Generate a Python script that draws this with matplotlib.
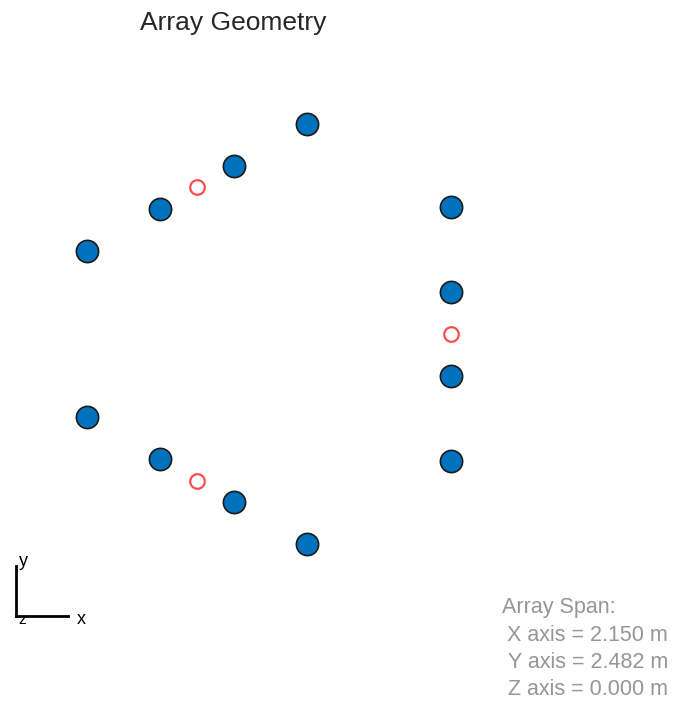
import matplotlib.pyplot as plt

# element positions (m), three 4-element subarrays
elem_x = [1.0, 1.0, 1.0, 1.0,
          0.1495, -0.2835, -0.7165, -1.1495,
          0.1495, -0.2835, -0.7165, -1.1495]
elem_y = [-0.75, -0.25, 0.25, 0.75,
          1.241, 0.991, 0.741, 0.491,
          -1.241, -0.991, -0.741, -0.491]

# subarray phase centers
center_x = [1.0, -0.5, -0.5]
center_y = [0.0, 0.866, -0.866]

span_labels = ['X axis', 'Y axis', 'Z axis']
span_values = [2.150, 2.482, 0.000]

W, H = 673, 703
plt.rcParams['font.family'] = ['Liberation Sans', 'DejaVu Sans']

fig = plt.figure(figsize=(W / 100, H / 100), dpi=100)
ax = fig.add_axes([0, 0, 1, 1])

# pixel mapping: px = x0 + s*x, py = y0 - s*y
s = 169.2
x0, y0 = 281.7, 334.0
ax.set_xlim(-x0 / s, (W - x0) / s)
ax.set_ylim((y0 - H) / s, y0 / s)
ax.axis('off')

ax.plot(elem_x, elem_y, 'o', ms=16, mfc='#0072BD', mec='#1a1a1a', mew=1.2, ls='none')
ax.plot(center_x, center_y, 'o', ms=10.5, mfc='none', mec='#ff4d4d', mew=1.6, ls='none')


def fx(px):
    return px / W


def fy(py):
    return 1 - py / H


fig.text(fx(233), fy(30), 'Array Geometry', ha='center', va='baseline', fontsize=19, color='#262626')

# axis indicator
fig.add_artist(plt.Line2D([fx(16), fx(16)], [fy(566), fy(616)], color='black', lw=2))
fig.add_artist(plt.Line2D([fx(16), fx(68)], [fy(616), fy(616)], color='black', lw=2))
fig.text(fx(23), fy(562), 'y', ha='center', va='center', fontsize=13)
fig.text(fx(81), fy(619), 'x', ha='center', va='center', fontsize=13)
fig.text(fx(22), fy(620), 'z', ha='center', va='center', fontsize=11)

# array span annotation
gray = '#969696'
fig.text(fx(502), fy(613), 'Array Span:', ha='left', va='baseline', fontsize=15.5, color=gray)
for i, (lab, val) in enumerate(zip(span_labels, span_values)):
    fig.text(fx(668), fy(641 + 27 * i), f'{lab} = {val:.3f} m', ha='right', va='baseline',
             fontsize=15.5, color=gray)

fig.savefig('out.png', dpi=100)
